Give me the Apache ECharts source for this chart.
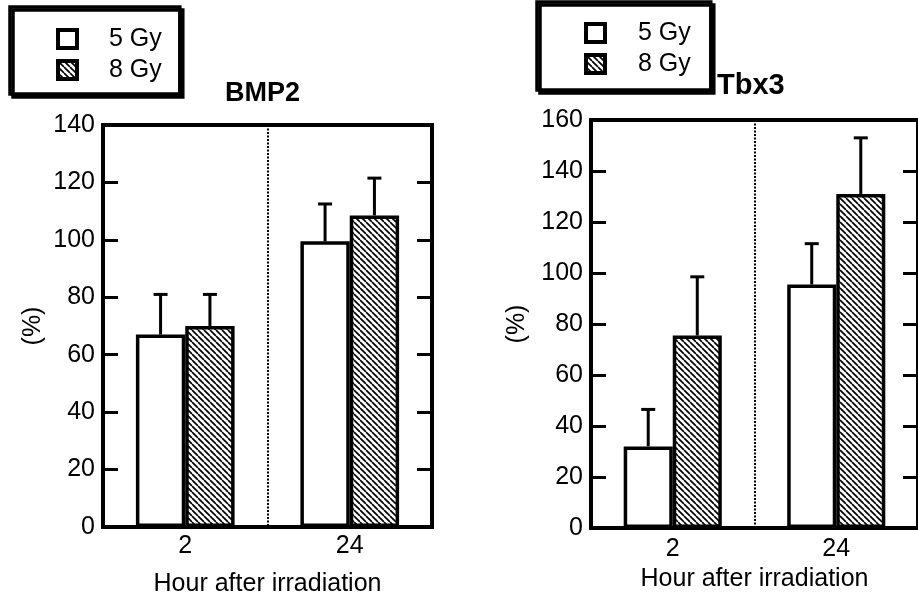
<!DOCTYPE html>
<html>
<head>
<meta charset="utf-8">
<style>
  html, body { margin: 0; padding: 0; background: #fff; }
  #chart { width: 918px; height: 602px; }
</style>
<script src="https://cdn.jsdelivr.net/npm/echarts@6/dist/echarts.min.js"></script>
</head>
<body>
<div id="chart"></div>
<script>
// Hours after irradiation (x categories)
const hours = ['2', '24'];

// BMP2 expression (%), mean and upper SD
const bmp2Mean5Gy = [67, 99.5];
const bmp2Sd5Gy = [14, 13];
const bmp2Mean8Gy = [70, 108.5];
const bmp2Sd8Gy = [11, 13];

// Tbx3 expression (%), mean and upper SD
const tbx3Mean5Gy = [32, 95.5];
const tbx3Sd5Gy = [14.5, 16];
const tbx3Mean8Gy = [75.5, 131];
const tbx3Sd8Gy = [23, 22];

const doseNames = ['5 Gy', '8 Gy'];

const FONT = "'Liberation Sans', Arial, Helvetica, sans-serif";

// Diagonal hatch fill for the 8 Gy bars
function makeHatch() {
  const s = 6;
  const c = document.createElement('canvas');
  c.width = s; c.height = s;
  const g = c.getContext('2d');
  g.fillStyle = '#fff';
  g.fillRect(0, 0, s, s);
  g.strokeStyle = '#000';
  g.lineWidth = 1.7;
  for (let k = -1; k <= 1; k++) {
    g.beginPath();
    g.moveTo(k * s, 0);
    g.lineTo(k * s + s, s);
    g.stroke();
  }
  return c;
}
const hatch = { image: makeHatch(), repeat: 'repeat' };

const BAR_W = 0.30; // fraction of the category band per bar

function barSeries(name, mean, xi, yi) {
  return {
    name: name,
    type: 'bar',
    xAxisIndex: xi,
    yAxisIndex: yi,
    barWidth: (BAR_W * 100) + '%',
    barGap: '0%',
    data: mean,
    itemStyle: {
      color: name === '5 Gy' ? '#fff' : hatch,
      borderColor: '#000',
      borderWidth: 3.5
    },
    emphasis: { disabled: true },
    z: 3
  };
}

// One-sided (upper) error bar drawn at the centre of its bar
function errorSeries(name, mean, sd, xi, yi, side) {
  return {
    name: name,
    type: 'custom',
    xAxisIndex: xi,
    yAxisIndex: yi,
    data: mean.map((m, i) => [i, m, m + sd[i]]),
    encode: { x: 0, y: 1 },
    z: 4,
    silent: true,
    renderItem: function (params, api) {
      const i = api.value(0);
      const base = api.coord([i, api.value(1)]);
      const top = api.coord([i, api.value(2)]);
      const band = api.size([1, 0])[0];
      const x = base[0] + side * band * BAR_W / 2;
      const st = { stroke: '#000', lineWidth: 3, fill: null };
      return {
        type: 'group',
        children: [
          { type: 'line', shape: { x1: x, y1: base[1], x2: x, y2: top[1] }, style: st },
          { type: 'line', shape: { x1: x - 7, y1: top[1], x2: x + 7, y2: top[1] }, style: st }
        ]
      };
    }
  };
}

function xAxis(gridIndex, nameGap, labelMargin) {
  return {
    type: 'category',
    gridIndex: gridIndex,
    data: hours,
    name: 'Hour after irradiation',
    nameLocation: 'middle',
    nameGap: nameGap,
    nameTextStyle: { fontFamily: FONT, fontSize: 25, color: '#000' },
    axisLine: { show: true, lineStyle: { color: '#000', width: 4 } },
    axisTick: { show: false },
    axisLabel: { fontFamily: FONT, fontSize: 25, color: '#000', margin: labelMargin },
    splitLine: { show: true, lineStyle: { color: '#000', width: 2, type: [2, 1.5] } }
  };
}

function yAxisMain(gridIndex, max, nameGap) {
  return {
    type: 'value',
    gridIndex: gridIndex,
    min: 0,
    max: max,
    interval: 20,
    name: '(%)',
    nameLocation: 'middle',
    nameRotate: 90,
    nameGap: nameGap,
    nameTextStyle: { fontFamily: FONT, fontSize: 25, color: '#000' },
    axisLine: { show: true, lineStyle: { color: '#000', width: 4 } },
    axisTick: { show: true, inside: true, length: 15, lineStyle: { color: '#000', width: 3 } },
    axisLabel: { fontFamily: FONT, fontSize: 25, color: '#000', margin: 8 },
    splitLine: { show: false }
  };
}

function yAxisRight(gridIndex, max) {
  return {
    type: 'value',
    gridIndex: gridIndex,
    position: 'right',
    min: 0,
    max: max,
    interval: 20,
    axisLine: { show: true, lineStyle: { color: '#000', width: 4 } },
    axisTick: { show: true, inside: true, length: 15, lineStyle: { color: '#000', width: 3 } },
    axisLabel: { show: false },
    splitLine: { show: false }
  };
}

function legend(left, top, padding, textPad) {
  return {
    orient: 'vertical',
    left: left,
    top: top,
    padding: padding,
    itemGap: 5,
    itemWidth: 19,
    itemHeight: 18,
    icon: 'rect',
    selectedMode: false,
    data: doseNames,
    backgroundColor: '#fff',
    borderColor: '#000',
    borderWidth: 3.5,
    borderRadius: 0,
    shadowColor: '#000',
    shadowBlur: 0,
    shadowOffsetX: 3,
    shadowOffsetY: 3,
    itemStyle: { borderColor: '#000', borderWidth: 4 },
    textStyle: {
      fontFamily: FONT, fontSize: 25, color: '#000',
      lineHeight: 26, padding: [0, 0, 0, textPad]
    }
  };
}

const option = {
  backgroundColor: '#fff',
  animation: false,
  title: [
    { text: 'BMP2', left: 225, top: 80, padding: 0,
      textStyle: { fontFamily: FONT, fontSize: 27, fontWeight: 'bold', color: '#000' } },
    { text: 'Tbx3', left: 717, top: 71, padding: 0,
      textStyle: { fontFamily: FONT, fontSize: 29, fontWeight: 'bold', color: '#000' } }
  ],
  legend: [
    legend(10, 7, [19, 18, 11, 46], 27),
    legend(537, 2, [18, 20, 13, 47], 28)
  ],
  grid: [
    { left: 103, top: 125, width: 329, height: 406, show: true, borderColor: '#000', borderWidth: 4, backgroundColor: 'transparent' },
    { left: 591, top: 120, width: 332, height: 408, show: true, borderColor: '#000', borderWidth: 4, backgroundColor: 'transparent' }
  ],
  xAxis: [xAxis(0, 45, 7), xAxis(1, 34, 9)],
  yAxis: [yAxisMain(0, 140, 57), yAxisRight(0, 140), yAxisMain(1, 160, 61), yAxisRight(1, 160)],
  series: [
    barSeries('5 Gy', bmp2Mean5Gy, 0, 0),
    barSeries('8 Gy', bmp2Mean8Gy, 0, 0),
    errorSeries('5 Gy', bmp2Mean5Gy, bmp2Sd5Gy, 0, 0, -1),
    errorSeries('8 Gy', bmp2Mean8Gy, bmp2Sd8Gy, 0, 0, 1),
    barSeries('5 Gy', tbx3Mean5Gy, 1, 2),
    barSeries('8 Gy', tbx3Mean8Gy, 1, 2),
    errorSeries('5 Gy', tbx3Mean5Gy, tbx3Sd5Gy, 1, 2, -1),
    errorSeries('8 Gy', tbx3Mean8Gy, tbx3Sd8Gy, 1, 2, 1)
  ]
};

const chart = echarts.init(document.getElementById('chart'), null, { renderer: 'canvas' });
chart.setOption(option);
</script>
</body>
</html>
